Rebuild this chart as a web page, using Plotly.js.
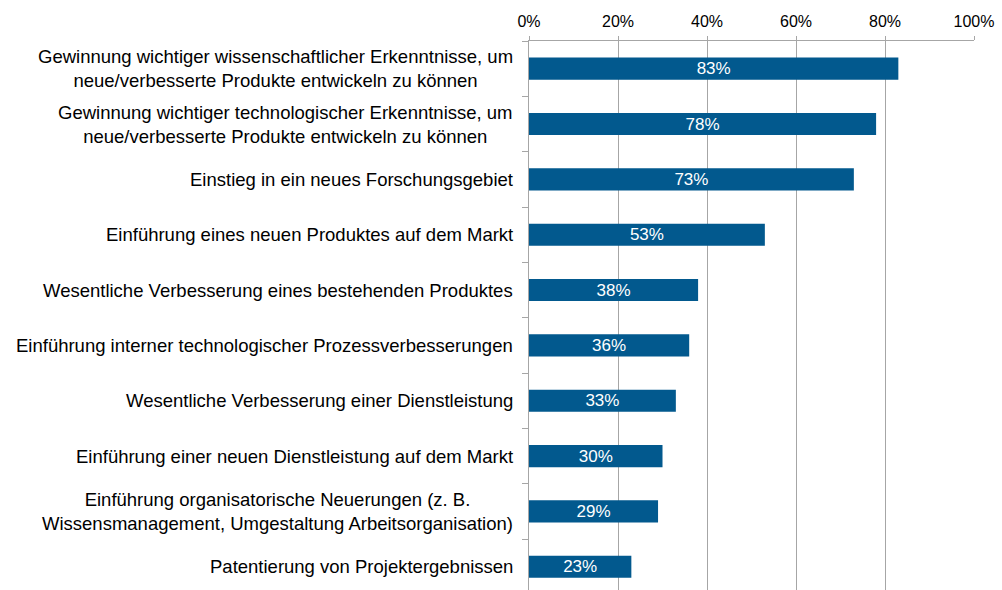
<!DOCTYPE html>
<html><head><meta charset="utf-8">
<script src="https://cdn.plot.ly/plotly-3.0.1.min.js"></script>
<style>html,body{margin:0;padding:0;background:#fff}#chart{width:1002px;height:590px}</style>
</head><body><div id="chart"></div>
<script>
const categories = [
  "Gewinnung wichtiger wissenschaftlicher Erkenntnisse, um<br>neue/verbesserte Produkte entwickeln zu können",
  "Gewinnung wichtiger technologischer Erkenntnisse, um<br>neue/verbesserte Produkte entwickeln zu können",
  "Einstieg in ein neues Forschungsgebiet",
  "Einführung eines neuen Produktes auf dem Markt",
  "Wesentliche Verbesserung eines bestehenden Produktes",
  "Einführung interner technologischer Prozessverbesserungen",
  "Wesentliche Verbesserung einer Dienstleistung",
  "Einführung einer neuen Dienstleistung auf dem Markt",
  "Einführung organisatorische Neuerungen (z. B.<br>Wissensmanagement, Umgestaltung Arbeitsorganisation)",
  "Patentierung von Projektergebnissen"
];
const values = [83, 78, 73, 53, 38, 36, 33, 30, 29, 23];
const tickVals = [0, 20, 40, 60, 80, 100];
const tickText = ["0%", "20%", "40%", "60%", "80%", "100%"];

const font = "Liberation Sans, Arial, sans-serif";
const ids = categories.map((c, i) => "c" + i);

const trace = {
  type: "bar", orientation: "h",
  y: ids, x: values,
  marker: {color: "#02598e"},
  text: values.map(v => v + "%"),
  textposition: "inside", insidetextanchor: "middle", constraintext: "none",
  textfont: {family: font, size: 17, color: "#ffffff"},
  hoverinfo: "none", cliponaxis: false
};

const annotations = categories.map((c, i) => ({
  xref: "paper", yref: "y", x: 0, y: ids[i],
  text: c, showarrow: false, xanchor: "right", yanchor: "middle",
  align: "center", xshift: -14,
  font: {family: font, size: 18.5, color: "#000000"}
}));

const layout = {
  width: 1002, height: 590,
  margin: {l: 529, r: 28, t: 41, b: 0},
  paper_bgcolor: "#ffffff", plot_bgcolor: "#ffffff",
  showlegend: false, bargap: 0.6,
  xaxis: {
    side: "top", range: [0, 100], tickvals: tickVals, ticktext: tickText,
    showgrid: true, gridcolor: "#a6a6a6", gridwidth: 1,
    showline: true, linecolor: "#a6a6a6", linewidth: 1,
    ticks: "outside", ticklen: 4, tickcolor: "#a6a6a6", ticklabelstandoff: 3,
    tickfont: {family: font, size: 16, color: "#000"},
    zeroline: false, fixedrange: true
  },
  yaxis: {
    type: "category", categoryorder: "array", categoryarray: ids,
    range: [9.42, -0.5], showticklabels: false,
    showline: true, linecolor: "#a6a6a6", linewidth: 1,
    ticks: "outside", ticklen: 6, tickcolor: "#a6a6a6", tickson: "boundaries",
    showgrid: false, zeroline: false, fixedrange: true
  },
  annotations: annotations
};

Plotly.newPlot("chart", [trace], layout, {displayModeBar: false, staticPlot: true});
</script></body></html>
